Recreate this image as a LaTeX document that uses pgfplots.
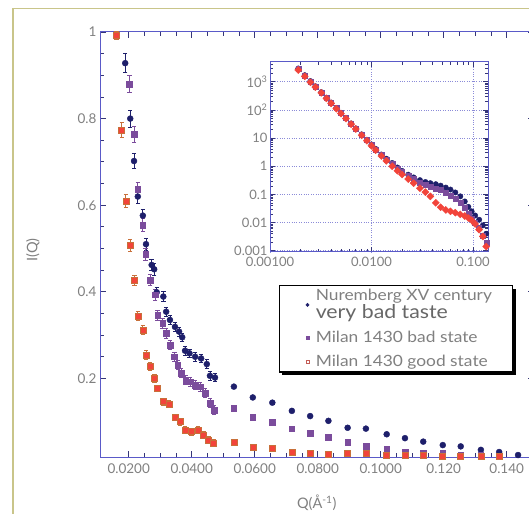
\documentclass[border=0pt]{standalone}
\usepackage{fontspec}
\setmainfont{Lato}
\newfontfamily\legfont[FakeStretch=1.12]{Lato}
\usepackage{pgfplots}
\usepackage{pgfplotstable}
\pgfplotsset{compat=1.18}
\usetikzlibrary{shadows}
\definecolor{navy}{HTML}{1E1F6B}
\definecolor{purp}{HTML}{7B4C9C}
\definecolor{redp}{HTML}{F2443A}
\definecolor{rede}{HTML}{C8703A}
\definecolor{axblue}{HTML}{5A5AC8}
\definecolor{txt}{HTML}{808080}
\definecolor{framec}{HTML}{C9C58A}

\pgfplotstableread{
x y e
0.0189 0.928 0.022
0.0205 0.800 0.020
0.0217 0.702 0.018
0.0229 0.620 0.016
0.0245 0.576 0.015
0.0255 0.510 0.014
0.0273 0.462 0.013
0.0281 0.452 0.013
0.0289 0.399 0.012
0.0310 0.389 0.012
0.0319 0.354 0.011
0.0331 0.335 0.011
0.0347 0.319 0.010
0.0360 0.308 0.010
0.0370 0.295 0.010
0.0379 0.264 0.010
0.0393 0.258 0.010
0.0411 0.250 0.010
0.0430 0.246 0.010
0.0448 0.233 0.010
0.0458 0.206 0.010
0.0474 0.202 0.010
0.0534 0.181 0.003
0.0594 0.156 0.003
0.0656 0.144 0.003
0.0718 0.125 0.003
0.0776 0.113 0.003
0.0834 0.102 0.003
0.0895 0.086 0.003
0.0953 0.084 0.003
0.1019 0.071 0.003
0.1077 0.062 0.003
0.1135 0.054 0.003
0.1197 0.046 0.003
0.1254 0.043 0.003
0.1318 0.035 0.003
0.1376 0.030 0.003
0.1436 0.023 0.003
}\navytab

\pgfplotstableread{
x y e
0.0202 0.880 0.020
0.0217 0.764 0.018
0.0229 0.637 0.016
0.0245 0.554 0.015
0.0254 0.487 0.014
0.0268 0.427 0.013
0.0284 0.393 0.012
0.0292 0.346 0.012
0.0308 0.327 0.011
0.0319 0.304 0.011
0.0331 0.277 0.010
0.0345 0.250 0.010
0.0356 0.231 0.010
0.0366 0.212 0.010
0.0381 0.196 0.010
0.0395 0.192 0.010
0.0411 0.185 0.010
0.0427 0.181 0.010
0.0442 0.166 0.010
0.0458 0.143 0.010
0.0471 0.127 0.010
0.0534 0.131 0.003
0.0594 0.111 0.003
0.0656 0.099 0.003
0.0718 0.084 0.003
0.0776 0.074 0.003
0.0834 0.064 0.003
0.0895 0.053 0.003
0.0953 0.044 0.003
0.1019 0.038 0.003
0.1077 0.031 0.003
0.1135 0.027 0.003
0.1197 0.027 0.003
0.1254 0.024 0.003
0.1318 0.022 0.003
0.1376 0.021 0.003
}\purptab

\pgfplotstableread{
x y e
0.0162 0.992 0.010
0.0178 0.774 0.018
0.0191 0.610 0.016
0.0205 0.508 0.014
0.0218 0.427 0.012
0.0229 0.344 0.011
0.0245 0.312 0.010
0.0255 0.254 0.010
0.0268 0.227 0.009
0.0282 0.200 0.009
0.0292 0.177 0.008
0.0310 0.146 0.008
0.0328 0.141 0.008
0.0347 0.110 0.008
0.0363 0.100 0.008
0.0379 0.081 0.008
0.0400 0.077 0.008
0.0421 0.081 0.008
0.0437 0.069 0.008
0.0453 0.058 0.008
0.0469 0.050 0.008
0.0534 0.052 0.003
0.0594 0.042 0.003
0.0656 0.038 0.003
0.0718 0.029 0.003
0.0776 0.027 0.003
0.0834 0.025 0.003
0.0895 0.026 0.003
0.0953 0.027 0.003
0.1019 0.022 0.003
0.1077 0.022 0.003
0.1135 0.022 0.003
0.1197 0.021 0.003
0.1254 0.020 0.003
0.1318 0.020 0.003
0.1376 0.020 0.003
}\redtab

\pgfplotstableread{
x n p r
0.0019 2950 2800 2600
0.0022 1700 1650 1550
0.0025 1050 1000 950
0.0028 690 670 640
0.0032 425 415 400
0.0036 270 265 255
0.0040 182 178 170
0.0045 117 115 110
0.0050 79 77 74
0.0056 52 51 49
0.0063 33 33 31
0.0070 22 22 21
0.0080 13.5 13.2 12.5
0.0090 8.7 8.5 8.0
0.0100 5.9 5.7 5.3
0.0110 4.1 4.0 3.7
0.0125 2.6 2.5 2.3
0.0140 1.85 1.75 1.55
0.0160 1.3 1.2 1.0
0.0180 0.9 0.83 0.69
0.0200 0.68 0.63 0.51
0.0230 0.50 0.46 0.35
0.0260 0.40 0.355 0.25
0.0300 0.32 0.27 0.166
0.0340 0.275 0.224 0.12
0.0380 0.25 0.19 0.085
0.0430 0.23 0.162 0.05
0.0480 0.204 0.141 0.035
0.0540 0.174 0.117 0.028
0.0600 0.148 0.093 0.025
0.0670 0.117 0.071 0.0224
0.0750 0.085 0.050 0.0195
0.0830 0.056 0.033 0.017
0.0900 0.036 0.0214 0.0145
0.0970 0.025 0.014 0.012
0.1050 0.0178 0.010 0.0089
0.1150 0.0126 0.0063 0.0056
0.1250 0.0079 0.0035 0.0032
0.1350 0.0040 0.0020 0.0014
}\insettab

\begin{document}
\begin{tikzpicture}
\path[use as bounding box] (0pt,0pt) rectangle (529pt,513pt);
\clip (0pt,0pt) rectangle (529pt,513pt);
\draw[framec, line width=1.2pt] (13pt,-5pt) -- (13pt,504.5pt) -- (540pt,504.5pt);
\begin{axis}[at={(100pt,56pt)}, anchor=south west, scale only axis,
  width=433.5pt, height=425pt,
  xmin=0.0109, xmax=0.1485, ymin=0.0185, ymax=1,
  xtick={0.02,0.04,0.06,0.08,0.10,0.12,0.14},
  xticklabels={0.0200,0.0400,0.0600,0.0800,0.1000,0.120,0.140},
  ytick={0.2,0.4,0.6,0.8,1},
  yticklabels={0.2,0.4,0.6,0.8,1},
  minor x tick num=3, minor y tick num=3,
  tick align=inside, major tick length=6pt, minor tick length=4pt,
  axis line style={axblue, line width=1pt},
  every tick/.style={axblue!60!black, line width=0.8pt},
  tick label style={font=\fontsize{13.5}{15}\selectfont, text=txt},
  xticklabel style={yshift=-3pt},
  xlabel={Q(Å\textsuperscript{-1})},
  ylabel={I(Q)},
  label style={font=\fontsize{14.5}{16}\selectfont, text=txt},
  xlabel style={at={(axis description cs:0.5,-0.108)}, anchor=center},
  ylabel style={at={(axis description cs:-0.155,0.487)}, anchor=center},
  legend style={at={(axis description cs:0.412,0.405)}, anchor=north west,
    draw=black, line width=1.3pt, fill=white,
    drop shadow={shadow xshift=3pt, shadow yshift=-3pt, fill=black, opacity=1},
    font=\legfont\fontsize{15.5}{16}\selectfont, text=txt,
    cells={anchor=west, align=left}, inner ysep=2pt, row sep=7pt},
  legend image code/.code={%
    \path (0pt,0pt) (31pt,0pt);
    \draw[#1] plot[only marks] coordinates {(25pt,0pt)};},
  legend image post style={line width=0.5pt},
]
\addplot[forget plot, only marks, mark=*, mark size=3pt, color=navy,
  error bars/.cd, y dir=both, y explicit,
  error bar style={line width=0.8pt, color=navy},
  error mark options={rotate=90, mark size=2.2pt, line width=0.8pt, color=navy}]
  table[x=x, y=y, y error=e] {\navytab};
\addplot[forget plot, only marks, mark=square*, mark size=2.8pt, color=purp,
  error bars/.cd, y dir=both, y explicit,
  error bar style={line width=0.8pt, color=purp},
  error mark options={rotate=90, mark size=2.2pt, line width=0.8pt, color=purp}]
  table[x=x, y=y, y error=e] {\purptab};
\addplot[forget plot, only marks, mark=square*, mark size=3pt, color=rede,
  mark options={fill=redp, draw=rede, line width=0.6pt},
  error bars/.cd, y dir=both, y explicit,
  error bar style={line width=0.8pt, color=rede},
  error mark options={rotate=90, mark size=2.2pt, line width=0.8pt, color=rede}]
  table[x=x, y=y, y error=e] {\redtab};
\addlegendimage{only marks, mark=*, mark size=1.6pt, color=navy}
\addlegendentry{Nuremberg XV century\\[0pt]{\fontsize{19}{19}\selectfont\color{txt!80!black}very bad taste}}
\addlegendimage{only marks, mark=square*, mark size=1.5pt, color=purp}
\addlegendentry{Milan 1430 bad state}
\addlegendimage{only marks, mark=square, mark size=1.6pt, color=redp!60!txt}
\addlegendentry{Milan 1430 good state\hspace*{20pt}}
\end{axis}

\begin{axis}[at={(270pt,261pt)}, anchor=south west, scale only axis,
  width=218pt, height=190pt,
  xmode=log, ymode=log,
  xmin=0.001, xmax=0.1406, ymin=0.0009, ymax=5000,
  axis background/.style={fill=white},
  xtick={0.001,0.01,0.1}, xticklabels={0.00100,0.0100,0.100},
  ytick={0.001,0.01,0.1,1,10,100,1000},
  yticklabels={0.001,0.01,0.1,1,10,10\textsuperscript{2},10\textsuperscript{3}},
  minor xtick={0.002,0.003,0.004,0.005,0.006,0.007,0.008,0.009,0.02,0.03,0.04,0.05,0.06,0.07,0.08,0.09},
  minor ytick={0.002,0.003,0.004,0.005,0.006,0.007,0.008,0.009,0.02,0.03,0.04,0.05,0.06,0.07,0.08,0.09,0.2,0.3,0.4,0.5,0.6,0.7,0.8,0.9,2,3,4,5,6,7,8,9,20,30,40,50,60,70,80,90,200,300,400,500,600,700,800,900,2000,3000,4000},
  grid=major, major grid style={dotted, axblue!70, line width=0.7pt},
  tick align=inside, major tick length=5pt, minor tick length=3pt,
  axis line style={axblue, line width=1pt},
  every tick/.style={axblue!60!black, line width=0.6pt},
  tick label style={font=\fontsize{13}{15}\selectfont, text=txt},
  xticklabel style={yshift=-2pt},
  yticklabel style={xshift=1pt},
]
\addplot[only marks, mark=*, mark size=2.7pt, color=navy] table[x=x, y=n] {\insettab};
\addplot[only marks, mark=square*, mark size=2.5pt, color=purp] table[x=x, y=p] {\insettab};
\addplot[only marks, mark=square*, mark size=2.5pt, color=redp, mark options={rotate=45}] table[x=x, y=r] {\insettab};
\end{axis}
\end{tikzpicture}
\end{document}
